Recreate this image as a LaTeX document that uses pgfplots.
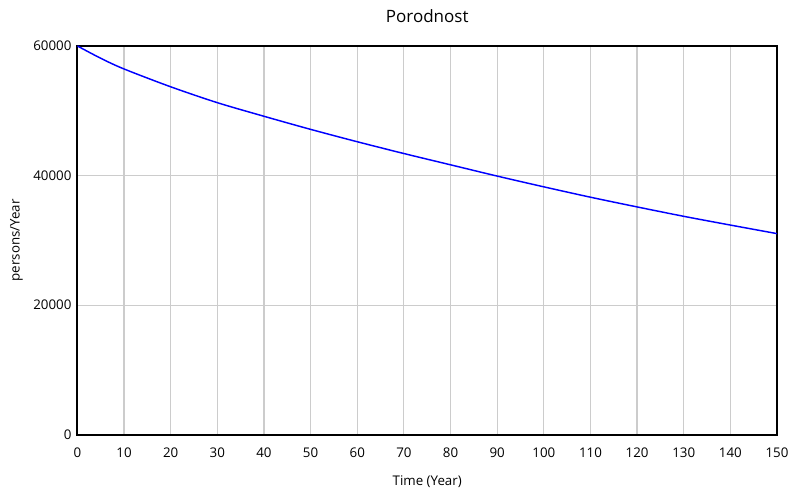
\documentclass[border=0pt]{standalone}
\usepackage{fontspec}
\setmainfont{Open Sans}
\usepackage{pgfplots}
\pgfplotsset{compat=1.18}

\begin{document}
\begin{tikzpicture}
  % fixed frame so the picture has the reference's proportions
  \path[use as bounding box] (-58.1pt,-50.25pt) rectangle (542.25pt,326.25pt);
  \begin{axis}[
    scale only axis,
    width=525pt, height=291.75pt,
    xmin=0, xmax=150, ymin=0, ymax=60000,
    xtick={0,10,...,150},
    ytick={0,20000,40000,60000},
    scaled y ticks=false,
    /pgf/number format/1000 sep={},
    /pgf/number format/assume math mode=true,
    major tick length=0pt,
    xmajorgrids, ymajorgrids,
    grid style={draw=black!20, line width=0.9pt},
    axis line style={line width=1.5pt},
    tick label style={font=\fontsize{10}{12}\selectfont},
    xticklabel style={yshift=-6pt},
    yticklabel style={xshift=-1pt},
    title={Porodnost},
    title style={font=\fontsize{12.75}{15}\selectfont, at={(axis description cs:0.5,1)}, anchor=center, yshift=16.5pt},
    xlabel={Time (Year)},
    xlabel style={font=\fontsize{10}{12}\selectfont, at={(axis description cs:0.5,0)}, anchor=center, yshift=-35.25pt},
    ylabel={persons/Year},
    ylabel style={font=\fontsize{10}{12}\selectfont, at={(axis description cs:-0.087,0.5)}, anchor=center},
  ]
    \addplot[blue, line width=1.1pt, smooth, tension=0.5] coordinates {
      (0,60000) (5,58100) (10,56450) (20,53700) (30,51250) (40,49150)
      (50,47130) (60,45220) (70,43400) (80,41660) (90,39920)
      (100,38260) (110,36660) (120,35160) (130,33710) (140,32360) (150,31040)
    };
  \end{axis}
\end{tikzpicture}
\end{document}
